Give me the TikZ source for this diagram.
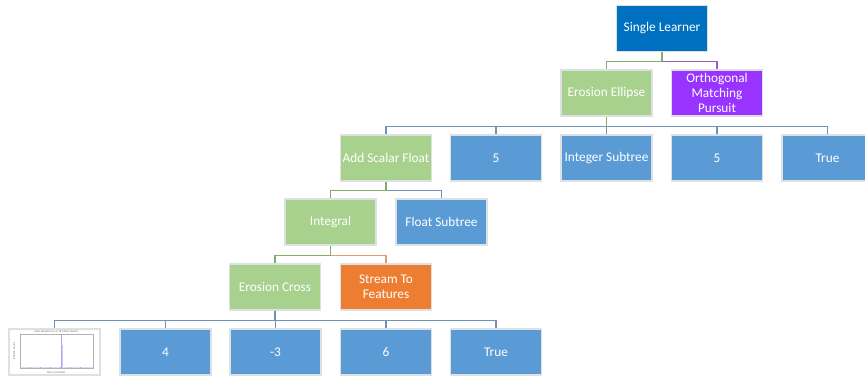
\documentclass[tikz,border=0pt]{standalone}
\usepackage{fontspec}
\setmainfont{Carlito}
\definecolor{topblue}{HTML}{0070C0}
\definecolor{boxblue}{HTML}{5B9BD5}
\definecolor{boxgreen}{HTML}{A9D18E}
\definecolor{boxorange}{HTML}{ED7D31}
\definecolor{boxpurple}{HTML}{9933FF}
\definecolor{rimgrey}{HTML}{DDE1E4}
\definecolor{linkgreen}{HTML}{83AD6B}
\definecolor{linkblue}{HTML}{7390BA}
\definecolor{linkpurple}{HTML}{9B5FC0}
\definecolor{linkorange}{HTML}{DE9A70}
\definecolor{traceblue}{HTML}{A9A9F5}
\tikzset{
  tile/.style={draw=rimgrey,line width=1.4pt,minimum width=91pt,minimum height=46pt,
    inner sep=1pt,align=center,text=white,font=\fontsize{13.3}{15}\selectfont},
  topbox/.style={tile,fill=topblue},
  bluebox/.style={tile,fill=boxblue},
  greenbox/.style={tile,fill=boxgreen},
  orangebox/.style={tile,fill=boxorange},
  purplebox/.style={tile,fill=boxpurple},
  plotframe/.style={draw=rimgrey,line width=1.2pt,fill=white,minimum width=91pt,minimum height=46pt},
  plotaxis/.style={draw=black!30,line width=.4pt},
  plottext/.style={text=black!55,inner sep=0pt,font=\fontsize{3}{3.5}\selectfont},
  glink/.style={draw=linkgreen,line width=1.2pt},
  blink/.style={draw=linkblue,line width=1.2pt},
  plink/.style={draw=linkpurple,line width=1.2pt},
  olink/.style={draw=linkorange,line width=1.2pt},
}
\begin{document}
\begin{tikzpicture}[x=1pt,y=-1pt]
\useasboundingbox (0,0) rectangle (865,376);
\clip (0,0) rectangle (865,376);
% tree nodes, level by level
\node[topbox] (single) at (662,28.5) {Single Learner};
\node[greenbox] (ellipse) at (606.5,93) {Erosion Ellipse};
\node[purplebox] (omp) at (717,93) {Orthogonal\\Matching\\Pursuit};
\node[greenbox] (addfloat) at (386,158) {Add Scalar Float};
\node[bluebox] (five1) at (496,158) {5};
\node[bluebox] (intsub) at (606.5,158) {Integer Subtree};
\node[bluebox] (five2) at (717,158) {5};
\node[bluebox] (true1) at (827.5,158) {True};
\node[greenbox] (integral) at (330.5,222) {Integral};
\node[bluebox] (floatsub) at (441.5,222) {Float Subtree};
\node[greenbox] (cross) at (275,287) {Erosion Cross};
\node[orangebox] (stream) at (386,287) {Stream To\\Features};
\node[plotframe] (plot) at (54.5,352) {};
\node[bluebox] (four) at (165.5,352) {4};
\node[bluebox] (minus) at (275.5,352) {-3};
\node[bluebox] (six) at (386,352) {6};
\node[bluebox] (true2) at (496,352) {True};
% small waveform chart inside the picture tile
\fill[traceblue!40] (20,366.5) rectangle (93,368);
\draw[traceblue,line width=.6pt] (20.3,355) -- (20.3,368);
\draw[traceblue,line width=1.1pt] (61.3,334) -- (61.3,368);
\draw[traceblue!60,line width=.8pt] (62.4,345) -- (62.4,368);
\draw[plotaxis] (20,334) rectangle (93,368);
\foreach \ty in {338,342,346,350,354,358,362}
  \draw[plotaxis] (20,\ty) -- (21,\ty);
\foreach \tx in {30,40,50,60,70,80}
  \draw[plotaxis] (\tx,368) -- (\tx,367);
\node[plottext] (plottitle) at (56,331.5) {Lidar Waveforms at 18 Meter Depth};
\node[plottext] (plotx) at (56,372.5) {Time (seconds)};
\node[plottext,rotate=90] (ploty) at (14,351) {Photon Count};
% connectors, each child joined to its parent through a shared bus
\draw[glink] (single.south) -- ++(0,9) -| (ellipse.north);
\draw[plink] (single.south) ++(0,9) -| (omp.north);
\draw[glink] (single.south) -- ++(0,9);
\foreach \kid in {five1,intsub,five2,true1}
  \draw[blink] (ellipse.south) ++(0,10) -| (\kid.north);
\draw[blink] (ellipse.south) ++(0,10) -| (addfloat.north);
\draw[glink] (ellipse.south) -- ++(0,10);
\draw[blink] (addfloat.south) ++(0,9) -| (floatsub.north);
\draw[glink] (addfloat.south) -- ++(0,9) -| (integral.north);
\draw[olink] (integral.south) ++(0,10) -| (stream.north);
\draw[glink] (integral.south) -- ++(0,10) -| (cross.north);
\foreach \kid in {plot,four,minus,six,true2}
  \draw[blink] (cross.south) -- ++(0,10) -| (\kid.north);
\end{tikzpicture}
\end{document}
